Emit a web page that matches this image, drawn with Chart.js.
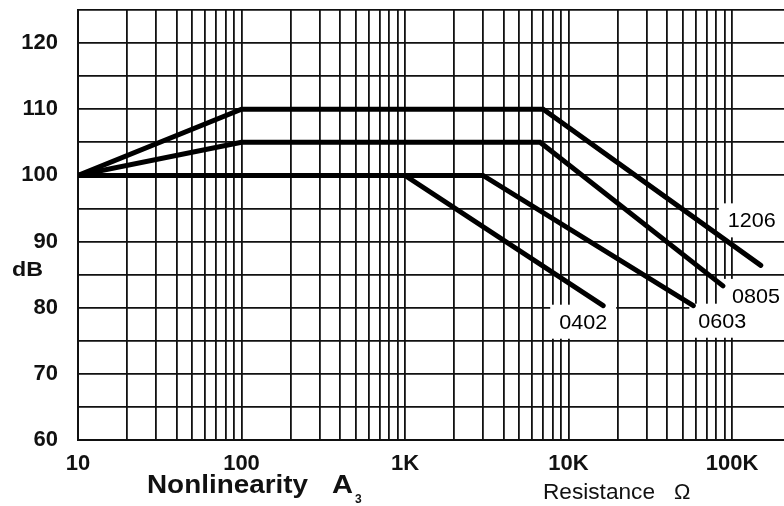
<!DOCTYPE html>
<html>
<head>
<meta charset="utf-8">
<script src="https://cdn.jsdelivr.net/npm/chart.js@4/dist/chart.umd.min.js"></script>
<style>
  html, body { margin: 0; padding: 0; background: #fff; }
  #wrap { width: 784px; height: 506px; }
</style>
</head>
<body>
<div id="wrap"><canvas id="dbChart" width="784" height="506"></canvas></div>
<script>
// --------------------------------
// Data
// --------------------------------
const seriesNames = ['1206', '0805', '0603', '0402'];

const x1206 = [10, 100, 7000, 150000];
const y1206 = [100, 110, 110, 86.4];

const x0805 = [10, 100, 6700, 88000];
const y0805 = [100, 105, 105, 83.3];

const x0603 = [10, 3000, 58000];
const y0603 = [100, 100, 80.3];

const x0402 = [10, 1000, 16300];
const y0402 = [100, 100, 80.3];

// x grid: every 1..9 x decade, labels only on the decades
const xGridValues = [10, 20, 30, 40, 50, 60, 70, 80, 90,
                     100, 200, 300, 400, 500, 600, 700, 800, 900,
                     1000, 2000, 3000, 4000, 5000, 6000, 7000, 8000, 9000,
                     10000, 20000, 30000, 40000, 50000, 60000, 70000, 80000, 90000,
                     100000];
const xTickValues = [10, 100, 1000, 10000, 100000];
const xTickLabels = ['10', '100', '1K', '10K', '100K'];

const yTickValues = [60, 70, 80, 90, 100, 110, 120];

// --------------------------------
// helpers
// --------------------------------
function toPoints(xs, ys) {
    return xs.map((x, i) => ({x: x, y: ys[i]}));
}

const allX = [x1206, x0805, x0603, x0402];
const allY = [y1206, y0805, y0603, y0402];

// where each series label sits relative to the end of its line (pixels)
const labelOffsets = [
    {dx: -33, dy: -45},
    {dx: 9, dy: 10},
    {dx: 5, dy: 15},
    {dx: -44, dy: 16}
];

const FONT = "'Liberation Sans', Arial, sans-serif";
Chart.defaults.font.family = FONT;
Chart.defaults.color = '#111';

// text drawn a little wider than the font gives, like the scanned original
function drawWide(ctx, text, x, y, width) {
    const w = ctx.measureText(text).width;
    ctx.save();
    ctx.translate(x, y);
    ctx.scale(width / w, 1);
    ctx.fillText(text, 0, 0);
    ctx.restore();
}

// draws the white boxed series labels and the axis titles
const textPlugin = {
    id: 'textPlugin',
    beforeDatasetsDraw(chart) {
        const ctx = chart.ctx;
        const xs = chart.scales.x, ys = chart.scales.y;
        const area = chart.chartArea;
        ctx.save();
        ctx.font = '21px ' + FONT;
        ctx.textBaseline = 'middle';
        ctx.textAlign = 'left';
        seriesNames.forEach((name, i) => {
            const xv = allX[i][allX[i].length - 1];
            const yv = allY[i][allY[i].length - 1];
            const px = xs.getPixelForValue(xv) + labelOffsets[i].dx;
            const py = ys.getPixelForValue(yv) + labelOffsets[i].dy;
            const bx = px - 9, by = py - 17;
            const bw = Math.min(66, area.right - bx), bh = 34;
            ctx.fillStyle = '#fff';
            ctx.fillRect(bx, by, bw, bh);
            ctx.fillStyle = '#000';
            drawWide(ctx, name, px, py + 1, 48);
        });
        ctx.restore();
    },
    afterDraw(chart) {
        const ctx = chart.ctx;
        ctx.save();
        ctx.fillStyle = '#111';
        ctx.textAlign = 'left';

        ctx.font = 'bold 21px ' + FONT;
        ctx.textBaseline = 'middle';
        drawWide(ctx, 'dB', 12, 270, 31);

        ctx.textBaseline = 'alphabetic';
        ctx.font = 'bold 25px ' + FONT;
        drawWide(ctx, 'Nonlinearity', 147, 493, 161);
        drawWide(ctx, 'A', 332, 493, 21);
        ctx.font = 'bold 12px ' + FONT;
        ctx.fillText('3', 355, 503);

        ctx.font = '22px ' + FONT;
        drawWide(ctx, 'Resistance', 543, 499, 112);
        ctx.fillText('\u03A9', 674, 499);
        ctx.restore();
    }
};

// --------------------------------
// chart definition
// --------------------------------
const ctx = document.getElementById('dbChart').getContext('2d');
const dbChart = new Chart(ctx, {
    type: 'line',
    data: {
        datasets: seriesNames.map((name, i) => ({
            label: name,
            data: toPoints(allX[i], allY[i]),
            borderColor: '#000',
            backgroundColor: '#000',
            borderWidth: 5,
            pointRadius: 0,
            fill: false,
            tension: 0,
            borderCapStyle: 'round'
        }))
    },
    options: {
        responsive: false,
        animation: false,
        events: [],
        layout: {
            padding: {left: 0, right: 0, top: 10, bottom: 0}
        },
        plugins: {
            legend: { display: false },
            tooltip: { enabled: false }
        },
        scales: {
            x: {
                type: 'logarithmic',
                min: 10,
                max: 208000,
                afterBuildTicks: (scale) => {
                    scale.ticks = xGridValues.map(v => ({value: v}));
                },
                afterFit: (scale) => {
                    scale.height = 66;
                    scale.paddingLeft = 0;
                    scale.paddingRight = 0;
                },
                ticks: {
                    autoSkip: false,
                    maxRotation: 0,
                    padding: 11,
                    font: { size: 22, weight: 'bold' },
                    callback: (value) => {
                        const k = xTickValues.indexOf(value);
                        return k >= 0 ? xTickLabels[k] : '';
                    }
                },
                grid: {
                    color: '#111',
                    lineWidth: 1.8,
                    drawTicks: false
                },
                border: { color: '#111', width: 2 }
            },
            y: {
                type: 'linear',
                min: 60,
                max: 125,
                afterFit: (scale) => {
                    scale.width = 78;
                    scale.paddingTop = 0;
                    scale.paddingBottom = 0;
                },
                ticks: {
                    stepSize: 5,
                    autoSkip: false,
                    padding: 20,
                    font: { size: 22, weight: 'bold' },
                    callback: (value) => yTickValues.includes(value) ? String(value) : ''
                },
                grid: {
                    color: '#111',
                    lineWidth: 1.8,
                    drawTicks: false
                },
                border: { color: '#111', width: 2 }
            }
        }
    },
    plugins: [textPlugin]
});
</script>
</body>
</html>
